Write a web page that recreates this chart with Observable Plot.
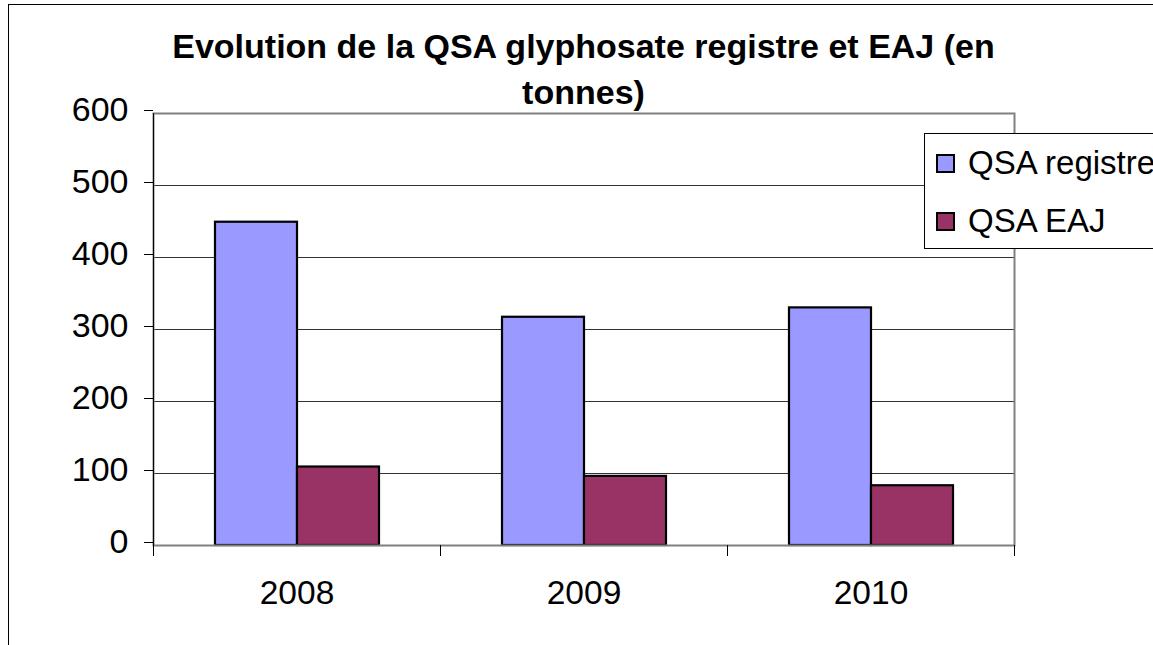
<!DOCTYPE html>
<html>
<head>
<meta charset="utf-8">
<script src="https://cdn.jsdelivr.net/npm/d3@7"></script>
<script src="https://cdn.jsdelivr.net/npm/@observablehq/plot@0.6"></script>
<style>
  html, body { margin: 0; padding: 0; overflow: hidden; width: 1153px; height: 645px; background: #fff; }
  body { position: relative; font-family: "Liberation Sans", Arial, sans-serif; }
  #border { position: absolute; left: 8px; top: 4px; width: 1400px; height: 900px; border: 1px solid #000; box-sizing: border-box; }
  #title { position: absolute; left: 143px; top: 23px; width: 881px; text-align: center; font-weight: bold; font-size: 34px; line-height: 46px; color: #000; }
  #chart { position: absolute; left: 0; top: 60px; }
  #legend { position: absolute; left: 924px; top: 133px; width: 320px; height: 116px; border: 1px solid #000; box-sizing: border-box; background: #fff; }
  .item { position: absolute; left: 11px; display: flex; align-items: center; font-size: 33px; white-space: nowrap; }
  .sw { width: 15px; height: 15px; border: 2px solid #000; margin-right: 13px; }
</style>
</head>
<body>
<div id="border"></div>
<div id="title">Evolution de la QSA glyphosate registre et EAJ (en tonnes)</div>
<div id="chart"></div>
<div id="legend"></div>
<script>
const years = ["2008", "2009", "2010"];
const series = ["QSA registre", "QSA EAJ"];
const registre = [449, 317, 330];
const eaj = [109, 96, 83];
const colors = ["#9999ff", "#993366"];
const yTicks = [0, 100, 200, 300, 400, 500, 600];

const table = [];
years.forEach((yr, i) => {
  table.push({year: yr, series: series[0], value: registre[i]});
  table.push({year: yr, series: series[1], value: eaj[i]});
});

const W = 1153, H = 585, mT = 53, mB = 100, mL = 152, mR = 139;
const innerH = H - mT - mB;

const chart = Plot.plot({
  width: W,
  height: H,
  marginTop: mT,
  marginBottom: mB,
  marginLeft: mL,
  marginRight: mR,
  style: {background: "transparent", fontFamily: "'Liberation Sans', Arial, sans-serif", color: "#000", overflow: "visible"},
  fx: {domain: years, paddingInner: 0, paddingOuter: 0, label: null},
  x: {domain: series, paddingInner: 0, paddingOuter: 0.729, axis: null},
  y: {domain: [0, 600], label: null},
  color: {domain: series, range: colors},
  marks: [
    Plot.gridY(yTicks, {stroke: "#333", strokeOpacity: 1, strokeWidth: 1}),
    Plot.barY(table, {fx: "year", x: "series", y: "value", fill: "series", stroke: "#000", strokeWidth: 2.2}),
    Plot.frame({facet: "super", stroke: "#808080", strokeWidth: 2}),
    Plot.frame({facet: "super", anchor: "left", stroke: "#000", strokeWidth: 1, insetBottom: -10}),
    Plot.frame({anchor: "left", stroke: "#000", strokeWidth: 1, insetTop: innerH, insetBottom: -10}),
    Plot.frame({facet: "super", anchor: "right", stroke: "#000", strokeWidth: 1, insetTop: innerH, insetBottom: -10}),
    Plot.axisY(yTicks, {tickSize: 9, tickPadding: 16, fontSize: 34, dy: -3, stroke: "#000", fill: "#000"}),
    Plot.axisFx({anchor: "bottom", tickSize: 0, tickPadding: 35, fontSize: 33.5, fill: "#000", label: null})
  ]
});
document.getElementById("chart").appendChild(chart);

const legend = d3.select("#legend");
series.forEach((s, i) => {
  const item = legend.append("div").attr("class", "item").style("top", (i === 0 ? 10 : 68) + "px");
  item.append("div").attr("class", "sw").style("background", colors[i]);
  item.append("span").text(s);
});
</script>
</body>
</html>
